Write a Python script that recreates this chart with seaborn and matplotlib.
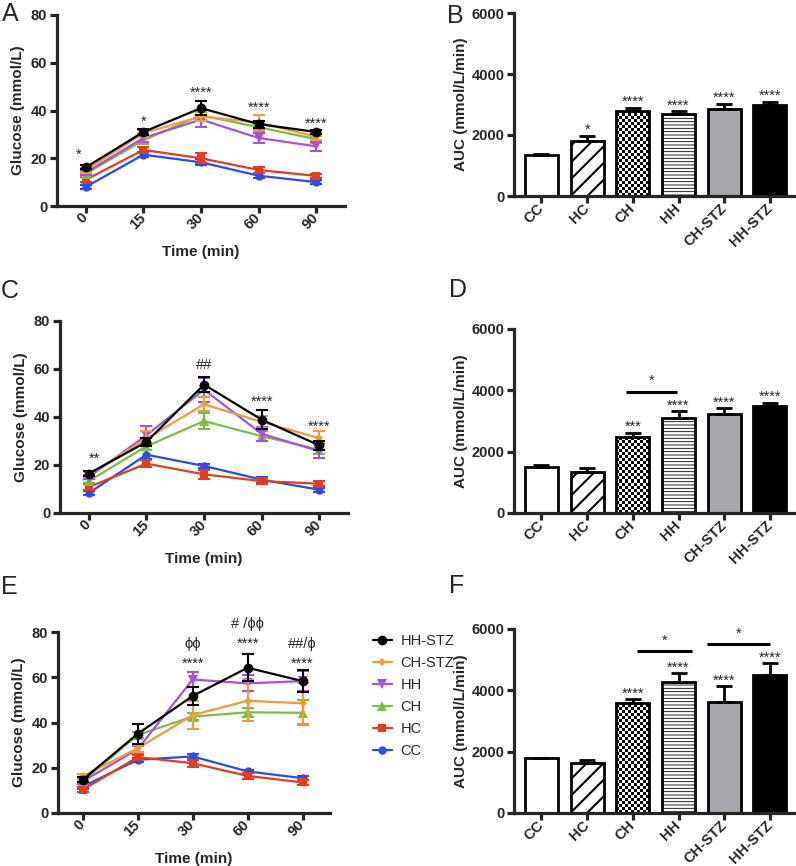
import numpy as np
import pandas as pd
import seaborn as sns
import matplotlib
matplotlib.use("Agg")
import matplotlib.pyplot as plt
from matplotlib.lines import Line2D

# ---- data ----
times = ['0', '15', '30', '60', '90']
groups = ['HH-STZ', 'CH-STZ', 'HH', 'CH', 'HC', 'CC']
bar_groups = ['CC', 'HC', 'CH', 'HH', 'CH-STZ', 'HH-STZ']

# panel A (glucose, mean / sem)
a_mean = {'HH-STZ': [16.2, 31.0, 41.0, 34.3, 31.0],
          'CH-STZ': [15.0, 30.5, 37.5, 35.0, 29.0],
          'HH': [14.0, 28.5, 36.2, 28.5, 25.0],
          'CH': [13.5, 27.5, 38.0, 33.0, 28.0],
          'HC': [11.0, 23.5, 20.0, 15.1, 12.6],
          'CC': [8.0, 21.5, 18.3, 12.7, 10.0]}
a_sem = {'HH-STZ': [0.8, 1.2, 2.8, 1.5, 1.0],
         'CH-STZ': [1.0, 1.5, 2.0, 3.0, 1.5],
         'HH': [1.0, 1.5, 3.0, 2.0, 1.8],
         'CH': [1.0, 1.5, 2.0, 1.5, 1.5],
         'HC': [1.0, 1.2, 2.0, 1.2, 1.0],
         'CC': [0.8, 1.0, 1.2, 1.0, 0.8]}

# panel C
c_mean = {'HH-STZ': [16.4, 29.6, 53.5, 38.9, 28.2],
          'CH-STZ': [16.0, 31.0, 45.3, 38.0, 31.2],
          'HH': [15.0, 32.4, 51.4, 33.0, 25.8],
          'CH': [13.3, 27.8, 38.3, 32.0, 26.4],
          'HC': [10.8, 20.6, 16.1, 13.3, 12.2],
          'CC': [8.3, 24.3, 19.6, 13.9, 9.7]}
c_sem = {'HH-STZ': [1.0, 1.5, 3.0, 4.0, 2.0],
         'CH-STZ': [1.0, 3.0, 3.0, 2.5, 2.8],
         'HH': [1.0, 4.0, 5.0, 3.0, 2.8],
         'CH': [1.0, 1.5, 3.5, 2.0, 2.0],
         'HC': [1.2, 1.5, 2.0, 1.2, 1.0],
         'CC': [1.0, 2.0, 1.0, 1.2, 0.8]}

# panel E
e_mean = {'HH-STZ': [14.7, 35.0, 51.7, 64.2, 58.3],
          'CH-STZ': [16.2, 28.6, 43.3, 49.6, 48.5],
          'HH': [14.0, 28.2, 59.0, 57.3, 58.3],
          'CH': [14.0, 34.5, 42.6, 44.5, 44.3],
          'HC': [10.3, 24.7, 22.0, 16.4, 13.5],
          'CC': [11.7, 23.5, 25.0, 18.4, 15.4]}
e_sem = {'HH-STZ': [1.0, 4.5, 4.0, 6.0, 5.0],
         'CH-STZ': [1.0, 1.5, 6.0, 9.0, 9.0],
         'HH': [1.0, 1.5, 3.5, 3.5, 4.5],
         'CH': [1.0, 1.5, 1.5, 2.0, 5.5],
         'HC': [1.2, 1.0, 1.5, 1.2, 1.0],
         'CC': [1.0, 1.0, 1.2, 0.8, 0.8]}

# AUC bars (order of bar_groups)
b_auc = [1330, 1790, 2790, 2680, 2860, 2990]
b_err = [60, 190, 110, 100, 170, 100]
d_auc = [1505, 1342, 2487, 3087, 3229, 3491]
d_err = [50, 110, 130, 240, 185, 110]
f_auc = [1778, 1636, 3600, 4287, 3633, 4505]
f_err = [30, 80, 120, 270, 510, 380]

# significance labels
a_notes = [(0, '*', 23.0, -0.12), (1, '*', 36.7, 0), (2, '****', 49.0, 0),
           (3, '****', 42.6, 0), (4, '****', 36.0, 0)]
c_notes = [(0, '**', 24.0, 0.1), (2, '##', 61.5, 0), (3, '****', 47.6, 0),
           (4, '****', 37.2, 0)]
e_notes = [(2, 'ϕϕ', 74.9, 0), (2, '****', 67.5, 0), (3, '# /ϕϕ', 83.7, 0),
           (3, '****', 76.4, 0), (4, '##/ϕ', 74.9, 0), (4, '****', 67.5, 0)]
b_stars = ['', '*', '****', '****', '****', '****']
d_stars = ['', '', '***', '****', '****', '****']
f_stars = ['', '', '****', '****', '****', '****']
d_brackets = [(2, 3, 3960, -0.14, -0.04)]
f_brackets = [(2, 3, 5270, 0.1, 0.3), (4, 5, 5510, -0.37, 0.0)]

# ---- styles ----
colors = {'HH-STZ': '#000000', 'CH-STZ': '#F29B38', 'HH': '#A852DC',
          'CH': '#78C045', 'HC': '#E63C1C', 'CC': '#2A4BEF'}
markers = {'HH-STZ': 'o', 'CH-STZ': 'D', 'HH': 'v', 'CH': '^', 'HC': 's', 'CC': 'o'}
msizes = {'HH-STZ': 7, 'CH-STZ': 4, 'HH': 6.5, 'CH': 6.5, 'HC': 6, 'CC': 6}
faces = {'CC': 'white', 'HC': 'white', 'CH': 'none', 'HH': 'white',
         'CH-STZ': '#A9A9AD', 'HH-STZ': 'black'}
hatches = {'HC': '//', 'HH': '-----'}
hatch_lw = {'HC': 1.5, 'HH': 0.6}

sns.set_style("ticks")
plt.rcParams['font.family'] = ['Liberation Sans', 'DejaVu Sans']
plt.rcParams['hatch.linewidth'] = 1.2

fig = plt.figure(figsize=(7.96, 8.66), dpi=100)
W, H = 796.0, 866.0


def add_ax(left, right, top, bottom):
    return fig.add_axes([left / W, 1 - bottom / H, (right - left) / W, (bottom - top) / H])


def style_axes(ax):
    sns.despine(ax=ax)
    for s in ['left', 'bottom']:
        ax.spines[s].set_linewidth(2.3)
    ax.tick_params(width=2.3, length=5, labelsize=10.5, pad=2)
    for lab in ax.get_yticklabels():
        lab.set_fontweight('bold')
    for lab in ax.get_xticklabels():
        lab.set_fontweight('bold')
        lab.set_rotation(45)
        lab.set_ha('right')
        lab.set_va('center')
        lab.set_rotation_mode('anchor')


def line_panel(ax, means, sems, notes, xlim):
    for g in reversed(groups):
        df = pd.DataFrame({'time': times, 'glucose': means[g]})
        ax.errorbar(np.arange(len(times)), means[g], yerr=sems[g], fmt='none',
                    ecolor=colors[g], elinewidth=1.5, capsize=4, capthick=1.5)
        sns.lineplot(data=df, x='time', y='glucose', color=colors[g], marker=markers[g],
                     markersize=msizes[g], markeredgewidth=0, linewidth=1.6, ax=ax,
                     legend=False)
    for i, txt, y, dx in notes:
        shift = -2.5 if '*' in txt else 0
        ax.annotate(txt, (i + dx, y), xytext=(0, shift), textcoords='offset points',
                    ha='center', va='center', fontsize=10.5, annotation_clip=False)
    ax.set_xlim(*xlim)
    ax.set_ylim(0, 80)
    ax.set_yticks([0, 20, 40, 60, 80])
    ax.set_xlabel('Time (min)', fontsize=11, fontweight='bold', labelpad=9)
    ax.set_ylabel('Glucose (mmol/L)', fontsize=11, fontweight='bold', labelpad=4)
    style_axes(ax)


def bar_panel(ax, vals, errs, stars, brackets):
    df = pd.DataFrame({'group': bar_groups, 'auc': vals})
    sns.barplot(data=df, x='group', y='auc', order=bar_groups, color='white',
                width=0.72, edgecolor='black', linewidth=2, errorbar=None, ax=ax)
    bars = ax.patches[:len(bar_groups)]
    for g, bar in zip(bar_groups, bars):
        bar.set_facecolor(faces[g])
        if g in hatches:
            bar.set_hatch(hatches[g])
            if hasattr(bar, 'set_hatch_linewidth'):
                bar.set_hatch_linewidth(hatch_lw[g])
        if g == 'CH':
            # checkerboard fill clipped to the bar
            bb = ax.get_position()
            nx = int(bb.width * W / 3)
            ny = int(bb.height * H / 3)
            checker = np.indices((ny, nx)).sum(axis=0) % 2
            im = ax.imshow(checker, cmap='Greys', interpolation='nearest',
                           extent=(0, 1, 0, 1), transform=ax.transAxes,
                           aspect='auto', zorder=bar.get_zorder() - 0.1)
            im.set_clip_path(bar)
    x = np.arange(len(bar_groups))
    ax.errorbar(x, vals, yerr=[np.zeros(len(x)), errs], fmt='none', ecolor='black',
                elinewidth=2, capsize=6, capthick=2, zorder=3)
    for i, s in enumerate(stars):
        if s:
            ax.annotate(s, (i, vals[i] + errs[i]), xytext=(0, -1), textcoords='offset points',
                        ha='center', va='bottom', fontsize=10.5)
    for i, j, y, d0, d1 in brackets:
        ax.plot([i + d0, j + d1], [y, y], color='black', lw=2.2, solid_capstyle='butt')
        ax.text((i + d0 + j + d1) / 2, y + 120, '*', ha='center', va='bottom', fontsize=10.5)
    ax.set_xlim(-0.6, 5.57)
    ax.set_ylim(0, 6000)
    ax.set_yticks([0, 2000, 4000, 6000])
    ax.set_xlabel('')
    ax.set_ylabel('AUC (mmol/L/min)', fontsize=11, fontweight='bold', labelpad=2)
    style_axes(ax)


ax_a = add_ax(57, 345, 15, 206)
ax_b = add_ax(514, 796, 13, 196)
ax_c = add_ax(60, 348, 321, 513)
ax_d = add_ax(514, 796, 329, 513)
ax_e = add_ax(58, 330, 632, 813)
ax_f = add_ax(514, 796, 629, 813)

line_panel(ax_a, a_mean, a_sem, a_notes, (-0.5, 4.5))
line_panel(ax_c, c_mean, c_sem, c_notes, (-0.5, 4.5))
line_panel(ax_e, e_mean, e_sem, e_notes, (-0.45, 4.5))
bar_panel(ax_b, b_auc, b_err, b_stars, [])
bar_panel(ax_d, d_auc, d_err, d_stars, d_brackets)
bar_panel(ax_f, f_auc, f_err, f_stars, f_brackets)

# legend of panel E
handles = [Line2D([], [], color=colors[g], marker=markers[g], markersize=msizes[g],
                  markeredgewidth=0, lw=1.6) for g in groups]
fig.legend(handles, groups, loc='upper left', bbox_to_anchor=(373 / W, 1 - 634 / H),
           frameon=False, fontsize=10.5, handlelength=1.3, handletextpad=0.6,
           labelspacing=0.55, borderaxespad=0, borderpad=0)

# panel letters
for letter, x, y in [('A', 2, 2), ('B', 447, 4), ('C', 1, 279), ('D', 449, 278),
                     ('E', 1, 575), ('F', 449, 574)]:
    fig.text(x / W, 1 - y / H, letter, fontsize=18, ha='left', va='top')

fig.savefig('out.png', dpi=100)
